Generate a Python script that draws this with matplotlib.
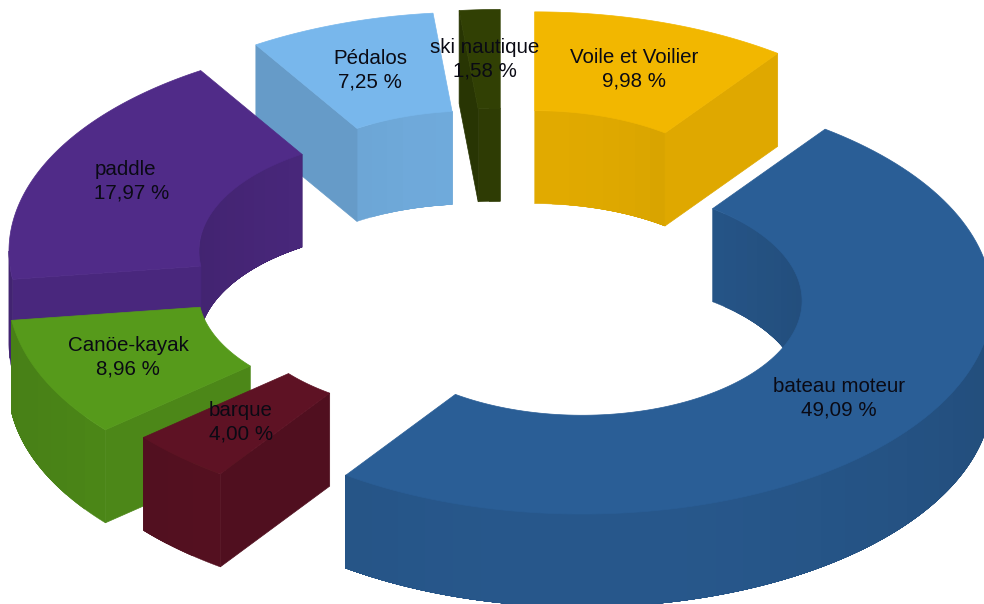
import matplotlib as mpl
mpl.use('Agg')
import matplotlib.pyplot as plt
import numpy as np

plt.rcParams['font.family'] = ['Liberation Sans', 'DejaVu Sans']

# clockwise from 12 o'clock
names = ['Voile et Voilier', 'bateau moteur', 'barque', 'Canöe-kayak',
         'paddle', 'Pédalos', 'ski nautique']
shares = [9.98, 49.09, 4.00, 8.96, 17.97, 7.25, 1.58]
colors = ['#f2b700', '#2a5e96', '#5e1224', '#569a1b', '#502b88', '#78b7ec', '#314004']
explode = [95, 95, 72, 95, 95, 95, 95]
label_xy = [(634, 69), (839, 398), (241, 422), (128, 357), (132, 181), (370, 70), (485, 59)]
label_align = ['center', 'center', 'center', 'center', 'left', 'center', 'center']

# ring geometry, in pixels
cx, cy = 505, 272
r_out, r_in = 410, 220
tilt = 0.52
depth = 93


def project(center, r, theta):
    return center[0] + r * np.sin(theta), center[1] - tilt * r * np.cos(theta)


def shade(color, f):
    return tuple(np.array(mpl.colors.to_rgb(color)) * f)


def arc(center, r, a, b):
    t = np.linspace(a, b, 120)
    x, y = project(center, r, t)
    return np.column_stack([x, y])


def wall(ax, center, r, a, b, color, z):
    # curved side in wide bands; each band runs on to the end of the wall so no seams show
    edges = np.linspace(a, b, max(int((b - a) * 14), 2) + 1)
    for t0, t1 in zip(edges[:-1], edges[1:]):
        tm = (t0 + t1) / 2
        f = 0.93 - 0.1 * np.sin(tm) ** 2
        pts = arc(center, r, t0, b)
        low = pts[::-1] + [0, depth]
        ax.fill(*np.vstack([pts, low]).T, color=shade(color, f), lw=0.3, zorder=z)


def cut(ax, center, theta, color, f, z):
    x0, y0 = project(center, r_in, theta)
    x1, y1 = project(center, r_out, theta)
    ax.fill([x0, x1, x1, x0], [y0, y1, y1 + depth, y0 + depth],
            color=shade(color, f), lw=0.5, zorder=z)


fig = plt.figure(figsize=(9.84, 6.04), dpi=100)
ax = fig.add_axes([0, 0, 1, 1])
ax.set_xlim(0, 984)
ax.set_ylim(604, 0)
ax.axis('off')

fractions = np.array(shares) / sum(shares)
stops = np.concatenate([[0], np.cumsum(fractions)]) * 2 * np.pi

# back slices first
centers = []
fronts = []
for i in range(len(shares)):
    mid = (stops[i] + stops[i + 1]) / 2
    c = project((cx, cy), explode[i], mid)
    centers.append(c)
    fronts.append(project(c, r_out, mid)[1])

for z, i in enumerate(np.argsort(fronts)):
    a, b = stops[i], stops[i + 1]
    c = centers[i]
    col = colors[i]
    base = z * 10

    # inner wall faces the viewer only on the far half, outer wall on the near half
    if a < np.pi / 2:
        wall(ax, c, r_in, a, min(b, np.pi / 2), col, base)
    if b > 1.5 * np.pi:
        wall(ax, c, r_in, max(a, 1.5 * np.pi), b, col, base)
    if np.sin(a) < 0:
        cut(ax, c, a, col, 0.92 - 0.1 * np.cos(a) ** 2, base + 1)
    if np.sin(b) > 0:
        cut(ax, c, b, col, 0.92, base + 1)
    lo, hi = max(a, np.pi / 2), min(b, 1.5 * np.pi)
    if lo < hi:
        wall(ax, c, r_out, lo, hi, col, base + 2)

    top = np.vstack([arc(c, r_out, a, b), arc(c, r_in, b, a)])
    ax.fill(*top.T, color=col, lw=0.5, zorder=base + 3)

for name, share, (x, y), align in zip(names, shares, label_xy, label_align):
    txt = name + '\n' + f'{share:.2f}'.replace('.', ',') + ' %'
    ax.text(x, y, txt, ha='center', va='center', ma=align, fontsize=14.8,
            color='#0a0a14', linespacing=1.28, zorder=200)

fig.savefig('out.png', dpi=100)
